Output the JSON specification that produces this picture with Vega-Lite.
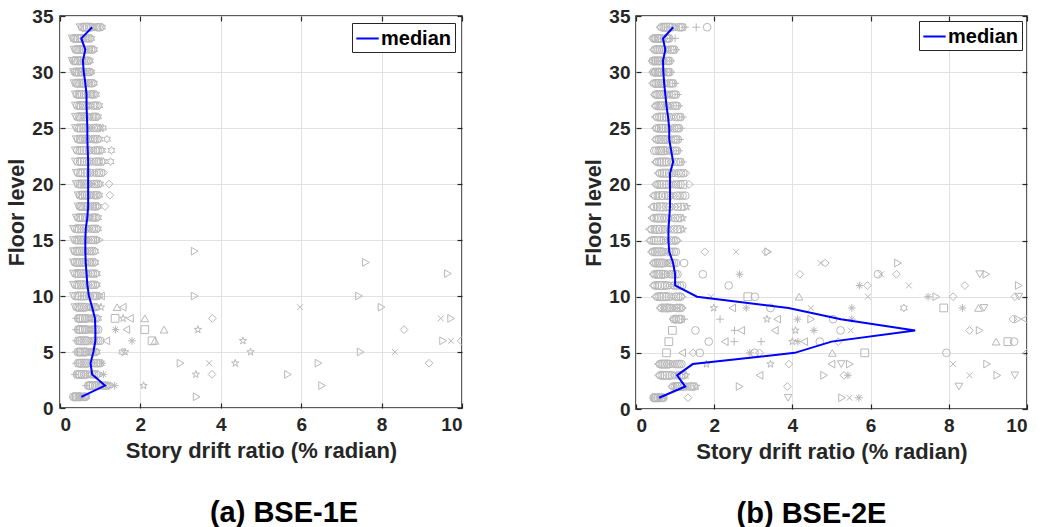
{
"$schema": "https://vega.github.io/schema/vega-lite/v6.json",
"padding": {"left": 6, "top": 6, "right": 0, "bottom": 2},
"background": "white",
"spacing": 174,
"bounds": "flush",
"config": {"font": "Liberation Sans", "view": {"stroke": "#262626", "strokeWidth": 1.5}},
"datasets": {
"a": [
{"f":34,"x":0.50,"m":"v"},{"f":34,"x":0.59,"m":"o"},{"f":34,"x":0.68,"m":"s"},{"f":34,"x":0.78,"m":"o"},{"f":34,"x":0.87,"m":"d"},{"f":34,"x":0.96,"m":"o"},{"f":34,"x":1.05,"m":"h"},
{"f":33,"x":0.30,"m":"v"},{"f":33,"x":0.38,"m":"o"},{"f":33,"x":0.46,"m":"s"},{"f":33,"x":0.54,"m":"o"},{"f":33,"x":0.62,"m":"d"},{"f":33,"x":0.70,"m":"o"},{"f":33,"x":0.78,"m":"h"},
{"f":32,"x":0.35,"m":"v"},{"f":32,"x":0.43,"m":"o"},{"f":32,"x":0.52,"m":"s"},{"f":32,"x":0.60,"m":"o"},{"f":32,"x":0.68,"m":"d"},{"f":32,"x":0.77,"m":"o"},{"f":32,"x":0.85,"m":"h"},
{"f":31,"x":0.30,"m":"v"},{"f":31,"x":0.38,"m":"o"},{"f":31,"x":0.45,"m":"s"},{"f":31,"x":0.53,"m":"o"},{"f":31,"x":0.60,"m":"d"},{"f":31,"x":0.68,"m":"o"},{"f":31,"x":0.75,"m":"h"},
{"f":30,"x":0.33,"m":"v"},{"f":30,"x":0.41,"m":"o"},{"f":30,"x":0.48,"m":"s"},{"f":30,"x":0.56,"m":"o"},{"f":30,"x":0.63,"m":"d"},{"f":30,"x":0.71,"m":"o"},{"f":30,"x":0.78,"m":"h"},
{"f":29,"x":0.35,"m":"v"},{"f":29,"x":0.43,"m":"o"},{"f":29,"x":0.52,"m":"s"},{"f":29,"x":0.60,"m":"o"},{"f":29,"x":0.68,"m":"d"},{"f":29,"x":0.77,"m":"o"},{"f":29,"x":0.85,"m":"h"},
{"f":28,"x":0.38,"m":"v"},{"f":28,"x":0.47,"m":"o"},{"f":28,"x":0.55,"m":"s"},{"f":28,"x":0.64,"m":"o"},{"f":28,"x":0.73,"m":"d"},{"f":28,"x":0.81,"m":"o"},{"f":28,"x":0.90,"m":"h"},
{"f":27,"x":0.38,"m":"v"},{"f":27,"x":0.48,"m":"o"},{"f":27,"x":0.58,"m":"s"},{"f":27,"x":0.68,"m":"o"},{"f":27,"x":0.78,"m":"d"},{"f":27,"x":0.88,"m":"o"},{"f":27,"x":0.98,"m":"h"},
{"f":26,"x":0.38,"m":"v"},{"f":26,"x":0.48,"m":"o"},{"f":26,"x":0.57,"m":"s"},{"f":26,"x":0.67,"m":"o"},{"f":26,"x":0.76,"m":"d"},{"f":26,"x":0.86,"m":"o"},{"f":26,"x":0.95,"m":"h"},
{"f":25,"x":0.38,"m":"v"},{"f":25,"x":0.48,"m":"o"},{"f":25,"x":0.59,"m":"s"},{"f":25,"x":0.69,"m":"o"},{"f":25,"x":0.79,"m":"d"},{"f":25,"x":0.90,"m":"o"},{"f":25,"x":1.00,"m":"h"},{"f":25,"x":1.07,"m":"h"},
{"f":24,"x":0.40,"m":"v"},{"f":24,"x":0.50,"m":"o"},{"f":24,"x":0.59,"m":"s"},{"f":24,"x":0.69,"m":"o"},{"f":24,"x":0.79,"m":"d"},{"f":24,"x":0.88,"m":"o"},{"f":24,"x":0.98,"m":"h"},{"f":24,"x":1.17,"m":"h"},
{"f":23,"x":0.38,"m":"v"},{"f":23,"x":0.49,"m":"o"},{"f":23,"x":0.60,"m":"s"},{"f":23,"x":0.72,"m":"o"},{"f":23,"x":0.83,"m":"d"},{"f":23,"x":0.94,"m":"o"},{"f":23,"x":1.05,"m":"h"},{"f":23,"x":1.28,"m":"h"},
{"f":22,"x":0.38,"m":"v"},{"f":22,"x":0.50,"m":"o"},{"f":22,"x":0.61,"m":"s"},{"f":22,"x":0.73,"m":"o"},{"f":22,"x":0.85,"m":"d"},{"f":22,"x":0.96,"m":"o"},{"f":22,"x":1.08,"m":"h"},{"f":22,"x":1.26,"m":"h"},
{"f":21,"x":0.40,"m":"v"},{"f":21,"x":0.51,"m":"o"},{"f":21,"x":0.63,"m":"s"},{"f":21,"x":0.74,"m":"o"},{"f":21,"x":0.85,"m":"d"},{"f":21,"x":0.97,"m":"o"},{"f":21,"x":1.08,"m":"d"},
{"f":20,"x":0.40,"m":"v"},{"f":20,"x":0.50,"m":"o"},{"f":20,"x":0.60,"m":"s"},{"f":20,"x":0.70,"m":"o"},{"f":20,"x":0.80,"m":"d"},{"f":20,"x":0.90,"m":"o"},{"f":20,"x":1.00,"m":"h"},{"f":20,"x":1.22,"m":"d"},
{"f":19,"x":0.45,"m":"v"},{"f":19,"x":0.54,"m":"o"},{"f":19,"x":0.63,"m":"s"},{"f":19,"x":0.72,"m":"o"},{"f":19,"x":0.80,"m":"d"},{"f":19,"x":0.89,"m":"o"},{"f":19,"x":0.98,"m":"h"},{"f":19,"x":1.24,"m":"d"},
{"f":18,"x":0.45,"m":"v"},{"f":18,"x":0.53,"m":"o"},{"f":18,"x":0.62,"m":"s"},{"f":18,"x":0.70,"m":"o"},{"f":18,"x":0.78,"m":"d"},{"f":18,"x":0.87,"m":"o"},{"f":18,"x":0.95,"m":"h"},{"f":18,"x":1.12,"m":"d"},
{"f":17,"x":0.40,"m":"v"},{"f":17,"x":0.49,"m":"o"},{"f":17,"x":0.58,"m":"s"},{"f":17,"x":0.68,"m":"o"},{"f":17,"x":0.77,"m":"d"},{"f":17,"x":0.86,"m":"o"},{"f":17,"x":0.95,"m":"h"},
{"f":16,"x":0.33,"m":"v"},{"f":16,"x":0.43,"m":"o"},{"f":16,"x":0.54,"m":"s"},{"f":16,"x":0.64,"m":"o"},{"f":16,"x":0.74,"m":"d"},{"f":16,"x":0.85,"m":"o"},{"f":16,"x":0.95,"m":"h"},
{"f":15,"x":0.33,"m":"v"},{"f":15,"x":0.43,"m":"o"},{"f":15,"x":0.53,"m":"s"},{"f":15,"x":0.63,"m":"o"},{"f":15,"x":0.72,"m":"d"},{"f":15,"x":0.82,"m":"o"},{"f":15,"x":0.92,"m":"h"},{"f":15,"x":0.99,"m":">"},
{"f":14,"x":0.33,"m":"v"},{"f":14,"x":0.42,"m":"o"},{"f":14,"x":0.51,"m":"s"},{"f":14,"x":0.61,"m":"o"},{"f":14,"x":0.70,"m":"d"},{"f":14,"x":0.79,"m":"o"},{"f":14,"x":0.88,"m":"h"},{"f":14,"x":3.35,"m":">"},
{"f":13,"x":0.33,"m":"v"},{"f":13,"x":0.42,"m":"o"},{"f":13,"x":0.51,"m":"s"},{"f":13,"x":0.61,"m":"o"},{"f":13,"x":0.70,"m":"d"},{"f":13,"x":0.79,"m":"o"},{"f":13,"x":0.88,"m":"h"},{"f":13,"x":7.61,"m":">"},
{"f":12,"x":0.33,"m":"v"},{"f":12,"x":0.43,"m":"o"},{"f":12,"x":0.53,"m":"s"},{"f":12,"x":0.63,"m":"o"},{"f":12,"x":0.72,"m":"d"},{"f":12,"x":0.82,"m":"o"},{"f":12,"x":0.92,"m":"h"},{"f":12,"x":9.65,"m":">"},
{"f":11,"x":0.33,"m":"v"},{"f":11,"x":0.43,"m":"o"},{"f":11,"x":0.53,"m":"s"},{"f":11,"x":0.63,"m":"o"},{"f":11,"x":0.72,"m":"d"},{"f":11,"x":0.82,"m":"o"},{"f":11,"x":0.92,"m":"h"},
{"f":10,"x":0.33,"m":"v"},{"f":10,"x":0.44,"m":"o"},{"f":10,"x":0.55,"m":"s"},{"f":10,"x":0.66,"m":"o"},{"f":10,"x":0.76,"m":"d"},{"f":10,"x":0.87,"m":"o"},{"f":10,"x":0.98,"m":"h"},{"f":10,"x":1.02,"m":"<"},{"f":10,"x":3.35,"m":">"},{"f":10,"x":7.44,"m":">"},
{"f":9,"x":0.37,"m":"v"},{"f":9,"x":0.46,"m":"o"},{"f":9,"x":0.55,"m":"s"},{"f":9,"x":0.65,"m":"o"},{"f":9,"x":0.74,"m":"d"},{"f":9,"x":0.83,"m":"o"},{"f":9,"x":0.92,"m":"h"},{"f":9,"x":1.02,"m":"p"},{"f":9,"x":1.42,"m":"^"},{"f":9,"x":1.56,"m":"<"},{"f":9,"x":5.97,"m":"x"},{"f":9,"x":8.0,"m":">"},
{"f":8,"x":0.40,"m":"+"},{"f":8,"x":0.49,"m":"o"},{"f":8,"x":0.58,"m":"s"},{"f":8,"x":0.68,"m":"o"},{"f":8,"x":0.77,"m":"d"},{"f":8,"x":0.86,"m":"o"},{"f":8,"x":0.95,"m":"h"},{"f":8,"x":1.37,"m":"s"},{"f":8,"x":1.57,"m":"p"},{"f":8,"x":1.74,"m":"<"},{"f":8,"x":2.11,"m":"^"},{"f":8,"x":3.79,"m":"d"},{"f":8,"x":9.47,"m":"x"},{"f":8,"x":9.73,"m":">"},
{"f":7,"x":0.40,"m":"+"},{"f":7,"x":0.49,"m":"o"},{"f":7,"x":0.58,"m":"s"},{"f":7,"x":0.68,"m":"o"},{"f":7,"x":0.77,"m":"d"},{"f":7,"x":0.86,"m":"o"},{"f":7,"x":0.95,"m":"o"},{"f":7,"x":1.38,"m":"*"},{"f":7,"x":1.65,"m":"<"},{"f":7,"x":2.11,"m":"s"},{"f":7,"x":2.59,"m":"^"},{"f":7,"x":3.43,"m":"p"},{"f":7,"x":8.56,"m":"d"},
{"f":6,"x":0.40,"m":"+"},{"f":6,"x":0.50,"m":"o"},{"f":6,"x":0.60,"m":"s"},{"f":6,"x":0.70,"m":"o"},{"f":6,"x":0.80,"m":"d"},{"f":6,"x":0.90,"m":"o"},{"f":6,"x":1.00,"m":"o"},{"f":6,"x":1.15,"m":"<"},{"f":6,"x":1.79,"m":"*"},{"f":6,"x":2.29,"m":"s"},{"f":6,"x":2.36,"m":"^"},{"f":6,"x":4.55,"m":"p"},{"f":6,"x":9.53,"m":">"},{"f":6,"x":9.73,"m":"x"},{"f":6,"x":9.98,"m":"d"},
{"f":5,"x":0.40,"m":"+"},{"f":5,"x":0.49,"m":"o"},{"f":5,"x":0.57,"m":"s"},{"f":5,"x":0.66,"m":"o"},{"f":5,"x":0.75,"m":"d"},{"f":5,"x":0.83,"m":"o"},{"f":5,"x":0.92,"m":"h"},{"f":5,"x":1.55,"m":"h"},{"f":5,"x":1.62,"m":"p"},{"f":5,"x":4.74,"m":"p"},{"f":5,"x":7.48,"m":">"},{"f":5,"x":8.33,"m":"x"},
{"f":4,"x":0.40,"m":"+"},{"f":4,"x":0.50,"m":"o"},{"f":4,"x":0.60,"m":"s"},{"f":4,"x":0.70,"m":"o"},{"f":4,"x":0.80,"m":"d"},{"f":4,"x":0.90,"m":"o"},{"f":4,"x":1.00,"m":"o"},{"f":4,"x":1.05,"m":"*"},{"f":4,"x":3.0,"m":">"},{"f":4,"x":3.71,"m":"x"},{"f":4,"x":4.36,"m":"p"},{"f":4,"x":6.43,"m":">"},{"f":4,"x":9.18,"m":"d"},
{"f":3,"x":0.37,"m":"+"},{"f":3,"x":0.47,"m":"o"},{"f":3,"x":0.56,"m":"s"},{"f":3,"x":0.66,"m":"o"},{"f":3,"x":0.76,"m":"d"},{"f":3,"x":0.85,"m":"o"},{"f":3,"x":0.95,"m":"h"},{"f":3,"x":1.08,"m":"*"},{"f":3,"x":3.38,"m":"p"},{"f":3,"x":3.78,"m":"d"},{"f":3,"x":5.67,"m":">"},
{"f":2,"x":0.65,"m":"+"},{"f":2,"x":0.74,"m":"o"},{"f":2,"x":0.83,"m":"s"},{"f":2,"x":0.93,"m":"o"},{"f":2,"x":1.02,"m":"d"},{"f":2,"x":1.11,"m":"o"},{"f":2,"x":1.20,"m":"h"},{"f":2,"x":1.24,"m":"d"},{"f":2,"x":1.36,"m":"*"},{"f":2,"x":2.08,"m":"p"},{"f":2,"x":6.52,"m":">"},
{"f":1,"x":0.33,"m":"o"},{"f":1,"x":0.39,"m":"o"},{"f":1,"x":0.44,"m":"s"},{"f":1,"x":0.50,"m":"o"},{"f":1,"x":0.55,"m":"d"},{"f":1,"x":0.61,"m":"o"},{"f":1,"x":0.66,"m":"h"},{"f":1,"x":3.4,"m":">"},
{"f":34,"x":0.55,"m":"o"},{"f":34,"x":0.64,"m":"s"},{"f":34,"x":0.73,"m":"o"},{"f":34,"x":0.82,"m":"d"},{"f":34,"x":0.92,"m":"o"},{"f":34,"x":1.00,"m":"o"},
{"f":33,"x":0.34,"m":"o"},{"f":33,"x":0.42,"m":"s"},{"f":33,"x":0.50,"m":"o"},{"f":33,"x":0.58,"m":"d"},{"f":33,"x":0.66,"m":"o"},{"f":33,"x":0.74,"m":"o"},
{"f":32,"x":0.39,"m":"o"},{"f":32,"x":0.47,"m":"s"},{"f":32,"x":0.56,"m":"o"},{"f":32,"x":0.64,"m":"d"},{"f":32,"x":0.72,"m":"o"},{"f":32,"x":0.81,"m":"o"},
{"f":31,"x":0.34,"m":"o"},{"f":31,"x":0.41,"m":"s"},{"f":31,"x":0.49,"m":"o"},{"f":31,"x":0.56,"m":"d"},{"f":31,"x":0.64,"m":"o"},{"f":31,"x":0.71,"m":"o"},
{"f":30,"x":0.37,"m":"o"},{"f":30,"x":0.44,"m":"s"},{"f":30,"x":0.52,"m":"o"},{"f":30,"x":0.59,"m":"d"},{"f":30,"x":0.67,"m":"o"},{"f":30,"x":0.74,"m":"o"},
{"f":29,"x":0.39,"m":"o"},{"f":29,"x":0.47,"m":"s"},{"f":29,"x":0.56,"m":"o"},{"f":29,"x":0.64,"m":"d"},{"f":29,"x":0.72,"m":"o"},{"f":29,"x":0.81,"m":"o"},
{"f":28,"x":0.42,"m":"o"},{"f":28,"x":0.51,"m":"s"},{"f":28,"x":0.60,"m":"o"},{"f":28,"x":0.68,"m":"d"},{"f":28,"x":0.77,"m":"o"},{"f":28,"x":0.85,"m":"o"},
{"f":27,"x":0.43,"m":"o"},{"f":27,"x":0.53,"m":"s"},{"f":27,"x":0.63,"m":"o"},{"f":27,"x":0.73,"m":"d"},{"f":27,"x":0.83,"m":"o"},{"f":27,"x":0.93,"m":"o"},
{"f":26,"x":0.43,"m":"o"},{"f":26,"x":0.52,"m":"s"},{"f":26,"x":0.62,"m":"o"},{"f":26,"x":0.71,"m":"d"},{"f":26,"x":0.81,"m":"o"},{"f":26,"x":0.90,"m":"o"},
{"f":25,"x":0.43,"m":"o"},{"f":25,"x":0.53,"m":"s"},{"f":25,"x":0.64,"m":"o"},{"f":25,"x":0.74,"m":"d"},{"f":25,"x":0.84,"m":"o"},{"f":25,"x":0.95,"m":"o"},
{"f":24,"x":0.45,"m":"o"},{"f":24,"x":0.54,"m":"s"},{"f":24,"x":0.64,"m":"o"},{"f":24,"x":0.74,"m":"d"},{"f":24,"x":0.83,"m":"o"},{"f":24,"x":0.93,"m":"o"},
{"f":23,"x":0.43,"m":"o"},{"f":23,"x":0.55,"m":"s"},{"f":23,"x":0.66,"m":"o"},{"f":23,"x":0.77,"m":"d"},{"f":23,"x":0.88,"m":"o"},{"f":23,"x":0.99,"m":"o"},
{"f":22,"x":0.44,"m":"o"},{"f":22,"x":0.55,"m":"s"},{"f":22,"x":0.67,"m":"o"},{"f":22,"x":0.79,"m":"d"},{"f":22,"x":0.90,"m":"o"},{"f":22,"x":1.02,"m":"o"},
{"f":21,"x":0.45,"m":"o"},{"f":21,"x":0.57,"m":"s"},{"f":21,"x":0.68,"m":"o"},{"f":21,"x":0.79,"m":"d"},{"f":21,"x":0.91,"m":"o"},{"f":21,"x":1.02,"m":"o"},
{"f":20,"x":0.45,"m":"o"},{"f":20,"x":0.55,"m":"s"},{"f":20,"x":0.65,"m":"o"},{"f":20,"x":0.75,"m":"d"},{"f":20,"x":0.85,"m":"o"},{"f":20,"x":0.95,"m":"o"},
{"f":19,"x":0.49,"m":"o"},{"f":19,"x":0.58,"m":"s"},{"f":19,"x":0.67,"m":"o"},{"f":19,"x":0.76,"m":"d"},{"f":19,"x":0.85,"m":"o"},{"f":19,"x":0.93,"m":"o"},
{"f":18,"x":0.49,"m":"o"},{"f":18,"x":0.57,"m":"s"},{"f":18,"x":0.66,"m":"o"},{"f":18,"x":0.74,"m":"d"},{"f":18,"x":0.82,"m":"o"},{"f":18,"x":0.91,"m":"o"},
{"f":17,"x":0.45,"m":"o"},{"f":17,"x":0.54,"m":"s"},{"f":17,"x":0.63,"m":"o"},{"f":17,"x":0.72,"m":"d"},{"f":17,"x":0.81,"m":"o"},{"f":17,"x":0.90,"m":"o"},
{"f":16,"x":0.38,"m":"o"},{"f":16,"x":0.48,"m":"s"},{"f":16,"x":0.59,"m":"o"},{"f":16,"x":0.69,"m":"d"},{"f":16,"x":0.79,"m":"o"},{"f":16,"x":0.90,"m":"o"},
{"f":15,"x":0.38,"m":"o"},{"f":15,"x":0.48,"m":"s"},{"f":15,"x":0.58,"m":"o"},{"f":15,"x":0.67,"m":"d"},{"f":15,"x":0.77,"m":"o"},{"f":15,"x":0.87,"m":"o"},
{"f":14,"x":0.37,"m":"o"},{"f":14,"x":0.47,"m":"s"},{"f":14,"x":0.56,"m":"o"},{"f":14,"x":0.65,"m":"d"},{"f":14,"x":0.74,"m":"o"},{"f":14,"x":0.84,"m":"o"},
{"f":13,"x":0.37,"m":"o"},{"f":13,"x":0.47,"m":"s"},{"f":13,"x":0.56,"m":"o"},{"f":13,"x":0.65,"m":"d"},{"f":13,"x":0.74,"m":"o"},{"f":13,"x":0.84,"m":"o"},
{"f":12,"x":0.38,"m":"o"},{"f":12,"x":0.48,"m":"s"},{"f":12,"x":0.58,"m":"o"},{"f":12,"x":0.67,"m":"d"},{"f":12,"x":0.77,"m":"o"},{"f":12,"x":0.87,"m":"o"},
{"f":11,"x":0.38,"m":"o"},{"f":11,"x":0.48,"m":"s"},{"f":11,"x":0.58,"m":"o"},{"f":11,"x":0.67,"m":"d"},{"f":11,"x":0.77,"m":"o"},{"f":11,"x":0.87,"m":"o"},
{"f":10,"x":0.38,"m":"o"},{"f":10,"x":0.49,"m":"s"},{"f":10,"x":0.60,"m":"o"},{"f":10,"x":0.71,"m":"d"},{"f":10,"x":0.82,"m":"o"},{"f":10,"x":0.92,"m":"o"},
{"f":9,"x":0.41,"m":"o"},{"f":9,"x":0.50,"m":"s"},{"f":9,"x":0.60,"m":"o"},{"f":9,"x":0.69,"m":"d"},{"f":9,"x":0.78,"m":"o"},{"f":9,"x":0.87,"m":"o"},
{"f":8,"x":0.45,"m":"o"},{"f":8,"x":0.54,"m":"s"},{"f":8,"x":0.63,"m":"o"},{"f":8,"x":0.72,"m":"d"},{"f":8,"x":0.81,"m":"o"},{"f":8,"x":0.90,"m":"o"},
{"f":7,"x":0.45,"m":"o"},{"f":7,"x":0.54,"m":"s"},{"f":7,"x":0.63,"m":"o"},{"f":7,"x":0.72,"m":"d"},{"f":7,"x":0.81,"m":"o"},{"f":7,"x":0.90,"m":"o"},
{"f":6,"x":0.45,"m":"o"},{"f":6,"x":0.55,"m":"s"},{"f":6,"x":0.65,"m":"o"},{"f":6,"x":0.75,"m":"d"},{"f":6,"x":0.85,"m":"o"},{"f":6,"x":0.95,"m":"o"},
{"f":5,"x":0.44,"m":"o"},{"f":5,"x":0.53,"m":"s"},{"f":5,"x":0.62,"m":"o"},{"f":5,"x":0.70,"m":"d"},{"f":5,"x":0.79,"m":"o"},{"f":5,"x":0.88,"m":"o"},
{"f":4,"x":0.45,"m":"o"},{"f":4,"x":0.55,"m":"s"},{"f":4,"x":0.65,"m":"o"},{"f":4,"x":0.75,"m":"d"},{"f":4,"x":0.85,"m":"o"},{"f":4,"x":0.95,"m":"o"},
{"f":3,"x":0.42,"m":"o"},{"f":3,"x":0.51,"m":"s"},{"f":3,"x":0.61,"m":"o"},{"f":3,"x":0.71,"m":"d"},{"f":3,"x":0.80,"m":"o"},{"f":3,"x":0.90,"m":"o"},
{"f":2,"x":0.70,"m":"o"},{"f":2,"x":0.79,"m":"s"},{"f":2,"x":0.88,"m":"o"},{"f":2,"x":0.97,"m":"d"},{"f":2,"x":1.06,"m":"o"},{"f":2,"x":1.15,"m":"o"},
{"f":1,"x":0.36,"m":"o"},{"f":1,"x":0.41,"m":"s"},{"f":1,"x":0.47,"m":"o"},{"f":1,"x":0.52,"m":"d"},{"f":1,"x":0.58,"m":"o"},{"f":1,"x":0.63,"m":"o"}
],
"b": [
{"f":34,"x":0.60,"m":"<"},{"f":34,"x":0.71,"m":"o"},{"f":34,"x":0.82,"m":"s"},{"f":34,"x":0.93,"m":"o"},{"f":34,"x":1.03,"m":"d"},{"f":34,"x":1.14,"m":"o"},{"f":34,"x":1.25,"m":"+"},{"f":34,"x":1.54,"m":"+"},{"f":34,"x":1.82,"m":"o"},
{"f":33,"x":0.41,"m":"<"},{"f":33,"x":0.49,"m":"o"},{"f":33,"x":0.57,"m":"s"},{"f":33,"x":0.65,"m":"o"},{"f":33,"x":0.73,"m":"d"},{"f":33,"x":0.81,"m":"o"},{"f":33,"x":0.89,"m":"+"},{"f":33,"x":1.0,"m":"+"},
{"f":32,"x":0.43,"m":"<"},{"f":32,"x":0.53,"m":"o"},{"f":32,"x":0.63,"m":"s"},{"f":32,"x":0.73,"m":"o"},{"f":32,"x":0.83,"m":"d"},{"f":32,"x":0.93,"m":"o"},{"f":32,"x":1.03,"m":"+"},
{"f":31,"x":0.39,"m":"<"},{"f":31,"x":0.48,"m":"o"},{"f":31,"x":0.56,"m":"s"},{"f":31,"x":0.65,"m":"o"},{"f":31,"x":0.73,"m":"d"},{"f":31,"x":0.82,"m":"o"},{"f":31,"x":0.90,"m":"+"},
{"f":30,"x":0.41,"m":"<"},{"f":30,"x":0.49,"m":"o"},{"f":30,"x":0.57,"m":"s"},{"f":30,"x":0.66,"m":"o"},{"f":30,"x":0.74,"m":"d"},{"f":30,"x":0.82,"m":"o"},{"f":30,"x":0.90,"m":"+"},
{"f":29,"x":0.41,"m":"<"},{"f":29,"x":0.51,"m":"o"},{"f":29,"x":0.61,"m":"s"},{"f":29,"x":0.71,"m":"o"},{"f":29,"x":0.80,"m":"d"},{"f":29,"x":0.90,"m":"o"},{"f":29,"x":1.00,"m":"+"},
{"f":28,"x":0.45,"m":"<"},{"f":28,"x":0.55,"m":"o"},{"f":28,"x":0.66,"m":"s"},{"f":28,"x":0.76,"m":"o"},{"f":28,"x":0.86,"m":"d"},{"f":28,"x":0.97,"m":"o"},{"f":28,"x":1.07,"m":"+"},
{"f":27,"x":0.47,"m":"<"},{"f":27,"x":0.58,"m":"o"},{"f":27,"x":0.68,"m":"s"},{"f":27,"x":0.79,"m":"o"},{"f":27,"x":0.89,"m":"d"},{"f":27,"x":1.00,"m":"o"},{"f":27,"x":1.10,"m":"+"},
{"f":26,"x":0.48,"m":"<"},{"f":26,"x":0.60,"m":"o"},{"f":26,"x":0.72,"m":"s"},{"f":26,"x":0.84,"m":"o"},{"f":26,"x":0.96,"m":"d"},{"f":26,"x":1.08,"m":"o"},{"f":26,"x":1.20,"m":"+"},
{"f":25,"x":0.48,"m":"<"},{"f":25,"x":0.59,"m":"o"},{"f":25,"x":0.70,"m":"s"},{"f":25,"x":0.82,"m":"o"},{"f":25,"x":0.93,"m":"d"},{"f":25,"x":1.04,"m":"o"},{"f":25,"x":1.15,"m":"+"},
{"f":24,"x":0.48,"m":"<"},{"f":24,"x":0.59,"m":"o"},{"f":24,"x":0.69,"m":"s"},{"f":24,"x":0.80,"m":"o"},{"f":24,"x":0.91,"m":"d"},{"f":24,"x":1.01,"m":"o"},{"f":24,"x":1.12,"m":"+"},
{"f":23,"x":0.47,"m":"o"},{"f":23,"x":0.58,"m":"o"},{"f":23,"x":0.68,"m":"s"},{"f":23,"x":0.79,"m":"o"},{"f":23,"x":0.89,"m":"d"},{"f":23,"x":1.00,"m":"o"},{"f":23,"x":1.10,"m":"+"},
{"f":22,"x":0.48,"m":"<"},{"f":22,"x":0.60,"m":"o"},{"f":22,"x":0.72,"m":"s"},{"f":22,"x":0.84,"m":"o"},{"f":22,"x":0.96,"m":"d"},{"f":22,"x":1.08,"m":"o"},{"f":22,"x":1.20,"m":"+"},
{"f":21,"x":0.55,"m":"<"},{"f":21,"x":0.67,"m":"o"},{"f":21,"x":0.79,"m":"s"},{"f":21,"x":0.91,"m":"o"},{"f":21,"x":1.03,"m":"d"},{"f":21,"x":1.15,"m":"o"},{"f":21,"x":1.27,"m":"d"},
{"f":20,"x":0.48,"m":"<"},{"f":20,"x":0.60,"m":"o"},{"f":20,"x":0.72,"m":"s"},{"f":20,"x":0.84,"m":"o"},{"f":20,"x":0.96,"m":"d"},{"f":20,"x":1.08,"m":"o"},{"f":20,"x":1.20,"m":"s"},{"f":20,"x":1.36,"m":"d"},
{"f":19,"x":0.42,"m":"<"},{"f":19,"x":0.56,"m":"o"},{"f":19,"x":0.70,"m":"s"},{"f":19,"x":0.84,"m":"o"},{"f":19,"x":0.98,"m":"d"},{"f":19,"x":1.12,"m":"o"},{"f":19,"x":1.26,"m":"o"},
{"f":18,"x":0.39,"m":"<"},{"f":18,"x":0.54,"m":"o"},{"f":18,"x":0.69,"m":"s"},{"f":18,"x":0.85,"m":"o"},{"f":18,"x":1.00,"m":"d"},{"f":18,"x":1.15,"m":"o"},{"f":18,"x":1.30,"m":"p"},
{"f":17,"x":0.39,"m":"<"},{"f":17,"x":0.53,"m":"o"},{"f":17,"x":0.66,"m":"s"},{"f":17,"x":0.80,"m":"o"},{"f":17,"x":0.93,"m":"d"},{"f":17,"x":1.07,"m":"o"},{"f":17,"x":1.20,"m":"p"},
{"f":16,"x":0.33,"m":"<"},{"f":16,"x":0.48,"m":"o"},{"f":16,"x":0.62,"m":"s"},{"f":16,"x":0.77,"m":"o"},{"f":16,"x":0.91,"m":"d"},{"f":16,"x":1.06,"m":"o"},{"f":16,"x":1.20,"m":"p"},
{"f":15,"x":0.33,"m":"<"},{"f":15,"x":0.46,"m":"o"},{"f":15,"x":0.58,"m":"s"},{"f":15,"x":0.71,"m":"o"},{"f":15,"x":0.83,"m":"d"},{"f":15,"x":0.96,"m":"o"},{"f":15,"x":1.08,"m":">"},
{"f":14,"x":0.38,"m":"<"},{"f":14,"x":0.49,"m":"o"},{"f":14,"x":0.59,"m":"s"},{"f":14,"x":0.70,"m":"o"},{"f":14,"x":0.81,"m":"d"},{"f":14,"x":0.91,"m":"o"},{"f":14,"x":1.02,"m":"o"},{"f":14,"x":1.76,"m":"d"},{"f":14,"x":2.56,"m":"x"},{"f":14,"x":3.32,"m":"d"},{"f":14,"x":3.38,"m":">"},
{"f":13,"x":0.42,"m":"<"},{"f":13,"x":0.52,"m":"o"},{"f":13,"x":0.62,"m":"s"},{"f":13,"x":0.72,"m":"o"},{"f":13,"x":0.82,"m":"d"},{"f":13,"x":0.92,"m":"o"},{"f":13,"x":1.02,"m":"o"},{"f":13,"x":1.23,"m":"o"},{"f":13,"x":4.72,"m":"x"},{"f":13,"x":4.84,"m":"d"},{"f":13,"x":6.7,"m":">"},
{"f":12,"x":0.42,"m":"<"},{"f":12,"x":0.53,"m":"o"},{"f":12,"x":0.63,"m":"s"},{"f":12,"x":0.74,"m":"o"},{"f":12,"x":0.85,"m":"d"},{"f":12,"x":0.95,"m":"o"},{"f":12,"x":1.06,"m":"o"},{"f":12,"x":1.71,"m":"o"},{"f":12,"x":2.65,"m":"*"},{"f":12,"x":4.19,"m":"d"},{"f":12,"x":6.19,"m":"o"},{"f":12,"x":6.27,"m":"x"},{"f":12,"x":6.66,"m":"d"},{"f":12,"x":8.79,"m":"v"},{"f":12,"x":8.96,"m":">"},
{"f":11,"x":0.42,"m":"<"},{"f":11,"x":0.55,"m":"o"},{"f":11,"x":0.67,"m":"s"},{"f":11,"x":0.80,"m":"o"},{"f":11,"x":0.93,"m":"d"},{"f":11,"x":1.05,"m":"o"},{"f":11,"x":1.18,"m":"o"},{"f":11,"x":2.37,"m":"o"},{"f":11,"x":5.72,"m":"*"},{"f":11,"x":5.92,"m":"d"},{"f":11,"x":6.98,"m":"x"},{"f":11,"x":8.41,"m":"d"},{"f":11,"x":9.79,"m":">"},
{"f":10,"x":0.48,"m":"<"},{"f":10,"x":0.60,"m":"o"},{"f":10,"x":0.72,"m":"s"},{"f":10,"x":0.84,"m":"o"},{"f":10,"x":0.96,"m":"d"},{"f":10,"x":1.08,"m":"o"},{"f":10,"x":1.20,"m":">"},{"f":10,"x":1.92,"m":"x"},{"f":10,"x":2.86,"m":"s"},{"f":10,"x":3.04,"m":"o"},{"f":10,"x":4.17,"m":"^"},{"f":10,"x":5.93,"m":"x"},{"f":10,"x":7.47,"m":"*"},{"f":10,"x":7.68,"m":">"},{"f":10,"x":8.11,"m":"d"},{"f":10,"x":9.69,"m":"d"},{"f":10,"x":9.79,"m":"v"},
{"f":9,"x":0.60,"m":"<"},{"f":9,"x":0.70,"m":"<"},{"f":9,"x":0.80,"m":"o"},{"f":9,"x":0.90,"m":"o"},{"f":9,"x":1.00,"m":"d"},{"f":9,"x":1.10,"m":"o"},{"f":9,"x":1.20,"m":">"},{"f":9,"x":1.99,"m":"p"},{"f":9,"x":2.46,"m":"<"},{"f":9,"x":2.82,"m":"*"},{"f":9,"x":3.44,"m":"o"},{"f":9,"x":4.47,"m":"x"},{"f":9,"x":5.52,"m":"*"},{"f":9,"x":6.85,"m":"h"},{"f":9,"x":7.87,"m":"s"},{"f":9,"x":8.35,"m":"*"},{"f":9,"x":8.76,"m":"^"},{"f":9,"x":8.9,"m":"v"},
{"f":8,"x":0.93,"m":"<"},{"f":8,"x":1.02,"m":"o"},{"f":8,"x":1.11,"m":"o"},{"f":8,"x":1.23,"m":"+"},{"f":8,"x":2.15,"m":"+"},{"f":8,"x":3.35,"m":"p"},{"f":8,"x":3.61,"m":"<"},{"f":8,"x":4.13,"m":"*"},{"f":8,"x":4.48,"m":">"},{"f":8,"x":5.04,"m":"o"},{"f":8,"x":5.52,"m":"*"},{"f":8,"x":9.64,"m":"d"},{"f":8,"x":9.77,"m":">"},{"f":8,"x":9.94,"m":"<"},
{"f":7,"x":0.93,"m":"s"},{"f":7,"x":1.52,"m":"o"},{"f":7,"x":2.52,"m":"+"},{"f":7,"x":2.69,"m":"<"},{"f":7,"x":3.55,"m":"<"},{"f":7,"x":4.08,"m":"p"},{"f":7,"x":4.55,"m":"*"},{"f":7,"x":5.23,"m":"o"},{"f":7,"x":5.49,"m":"x"},{"f":7,"x":8.53,"m":"d"},{"f":7,"x":8.79,"m":">"},
{"f":6,"x":0.84,"m":"s"},{"f":6,"x":1.86,"m":"o"},{"f":6,"x":2.27,"m":"<"},{"f":6,"x":2.51,"m":"+"},{"f":6,"x":3.2,"m":"+"},{"f":6,"x":4.0,"m":"p"},{"f":6,"x":4.14,"m":"*"},{"f":6,"x":4.3,"m":"<"},{"f":6,"x":4.7,"m":"o"},{"f":6,"x":5.17,"m":"d"},{"f":6,"x":9.21,"m":"^"},{"f":6,"x":9.51,"m":"s"},{"f":6,"x":9.67,"m":"o"},
{"f":5,"x":0.78,"m":"s"},{"f":5,"x":1.18,"m":"<"},{"f":5,"x":1.46,"m":"d"},{"f":5,"x":1.63,"m":"o"},{"f":5,"x":2.91,"m":"*"},{"f":5,"x":3.03,"m":"o"},{"f":5,"x":3.16,"m":"d"},{"f":5,"x":5.02,"m":"^"},{"f":5,"x":5.85,"m":"s"},{"f":5,"x":7.94,"m":"o"},{"f":5,"x":10.0,"m":"d"},
{"f":4,"x":0.56,"m":"<"},{"f":4,"x":0.66,"m":"o"},{"f":4,"x":0.76,"m":"s"},{"f":4,"x":0.86,"m":"o"},{"f":4,"x":0.96,"m":"d"},{"f":4,"x":1.06,"m":"o"},{"f":4,"x":1.16,"m":"o"},{"f":4,"x":1.8,"m":"p"},{"f":4,"x":3.44,"m":"p"},{"f":4,"x":3.91,"m":"d"},{"f":4,"x":5.0,"m":"<"},{"f":4,"x":5.25,"m":"v"},{"f":4,"x":5.47,"m":">"},{"f":4,"x":8.11,"m":"x"},{"f":4,"x":8.98,"m":">"},
{"f":3,"x":0.56,"m":"<"},{"f":3,"x":0.68,"m":"o"},{"f":3,"x":0.80,"m":"s"},{"f":3,"x":0.92,"m":"o"},{"f":3,"x":1.04,"m":"d"},{"f":3,"x":1.16,"m":"o"},{"f":3,"x":1.28,"m":"p"},{"f":3,"x":3.16,"m":"<"},{"f":3,"x":4.81,"m":">"},{"f":3,"x":5.32,"m":"d"},{"f":3,"x":5.42,"m":"*"},{"f":3,"x":8.53,"m":"x"},{"f":3,"x":9.24,"m":">"},{"f":3,"x":9.69,"m":"v"},
{"f":2,"x":0.90,"m":"<"},{"f":2,"x":1.01,"m":"o"},{"f":2,"x":1.12,"m":"s"},{"f":2,"x":1.22,"m":"o"},{"f":2,"x":1.33,"m":"d"},{"f":2,"x":1.44,"m":"o"},{"f":2,"x":1.54,"m":"p"},{"f":2,"x":2.65,"m":">"},{"f":2,"x":3.87,"m":"d"},{"f":2,"x":8.26,"m":"v"},
{"f":1,"x":0.45,"m":"o"},{"f":1,"x":0.49,"m":"o"},{"f":1,"x":0.53,"m":"s"},{"f":1,"x":0.57,"m":"o"},{"f":1,"x":0.62,"m":"d"},{"f":1,"x":0.66,"m":"o"},{"f":1,"x":0.70,"m":"o"},{"f":1,"x":1.33,"m":"d"},{"f":1,"x":3.89,"m":"v"},{"f":1,"x":5.27,"m":">"},{"f":1,"x":5.46,"m":"x"},{"f":1,"x":5.7,"m":"*"},
{"f":34,"x":0.65,"m":"o"},{"f":34,"x":0.76,"m":"s"},{"f":34,"x":0.87,"m":"o"},{"f":34,"x":0.98,"m":"d"},{"f":34,"x":1.09,"m":"o"},{"f":34,"x":1.19,"m":"o"},
{"f":33,"x":0.45,"m":"o"},{"f":33,"x":0.53,"m":"s"},{"f":33,"x":0.61,"m":"o"},{"f":33,"x":0.69,"m":"d"},{"f":33,"x":0.77,"m":"o"},{"f":33,"x":0.85,"m":"o"},
{"f":32,"x":0.48,"m":"o"},{"f":32,"x":0.58,"m":"s"},{"f":32,"x":0.68,"m":"o"},{"f":32,"x":0.78,"m":"d"},{"f":32,"x":0.88,"m":"o"},{"f":32,"x":0.98,"m":"o"},
{"f":31,"x":0.43,"m":"o"},{"f":31,"x":0.52,"m":"s"},{"f":31,"x":0.60,"m":"o"},{"f":31,"x":0.69,"m":"d"},{"f":31,"x":0.77,"m":"o"},{"f":31,"x":0.86,"m":"o"},
{"f":30,"x":0.45,"m":"o"},{"f":30,"x":0.53,"m":"s"},{"f":30,"x":0.61,"m":"o"},{"f":30,"x":0.70,"m":"d"},{"f":30,"x":0.78,"m":"o"},{"f":30,"x":0.86,"m":"o"},
{"f":29,"x":0.46,"m":"o"},{"f":29,"x":0.56,"m":"s"},{"f":29,"x":0.66,"m":"o"},{"f":29,"x":0.75,"m":"d"},{"f":29,"x":0.85,"m":"o"},{"f":29,"x":0.95,"m":"o"},
{"f":28,"x":0.50,"m":"o"},{"f":28,"x":0.61,"m":"s"},{"f":28,"x":0.71,"m":"o"},{"f":28,"x":0.81,"m":"d"},{"f":28,"x":0.91,"m":"o"},{"f":28,"x":1.02,"m":"o"},
{"f":27,"x":0.52,"m":"o"},{"f":27,"x":0.63,"m":"s"},{"f":27,"x":0.73,"m":"o"},{"f":27,"x":0.84,"m":"d"},{"f":27,"x":0.94,"m":"o"},{"f":27,"x":1.05,"m":"o"},
{"f":26,"x":0.54,"m":"o"},{"f":26,"x":0.66,"m":"s"},{"f":26,"x":0.78,"m":"o"},{"f":26,"x":0.90,"m":"d"},{"f":26,"x":1.02,"m":"o"},{"f":26,"x":1.14,"m":"o"},
{"f":25,"x":0.53,"m":"o"},{"f":25,"x":0.65,"m":"s"},{"f":25,"x":0.76,"m":"o"},{"f":25,"x":0.87,"m":"d"},{"f":25,"x":0.98,"m":"o"},{"f":25,"x":1.10,"m":"o"},
{"f":24,"x":0.53,"m":"o"},{"f":24,"x":0.64,"m":"s"},{"f":24,"x":0.75,"m":"o"},{"f":24,"x":0.85,"m":"d"},{"f":24,"x":0.96,"m":"o"},{"f":24,"x":1.07,"m":"o"},
{"f":23,"x":0.52,"m":"o"},{"f":23,"x":0.63,"m":"s"},{"f":23,"x":0.73,"m":"o"},{"f":23,"x":0.84,"m":"d"},{"f":23,"x":0.94,"m":"o"},{"f":23,"x":1.05,"m":"o"},
{"f":22,"x":0.54,"m":"o"},{"f":22,"x":0.66,"m":"s"},{"f":22,"x":0.78,"m":"o"},{"f":22,"x":0.90,"m":"d"},{"f":22,"x":1.02,"m":"o"},{"f":22,"x":1.14,"m":"o"},
{"f":21,"x":0.61,"m":"o"},{"f":21,"x":0.73,"m":"s"},{"f":21,"x":0.85,"m":"o"},{"f":21,"x":0.97,"m":"d"},{"f":21,"x":1.09,"m":"o"},{"f":21,"x":1.21,"m":"o"},
{"f":20,"x":0.54,"m":"o"},{"f":20,"x":0.66,"m":"s"},{"f":20,"x":0.78,"m":"o"},{"f":20,"x":0.90,"m":"d"},{"f":20,"x":1.02,"m":"o"},{"f":20,"x":1.14,"m":"o"},
{"f":19,"x":0.49,"m":"o"},{"f":19,"x":0.63,"m":"s"},{"f":19,"x":0.77,"m":"o"},{"f":19,"x":0.91,"m":"d"},{"f":19,"x":1.05,"m":"o"},{"f":19,"x":1.19,"m":"o"},
{"f":18,"x":0.46,"m":"o"},{"f":18,"x":0.62,"m":"s"},{"f":18,"x":0.77,"m":"o"},{"f":18,"x":0.92,"m":"d"},{"f":18,"x":1.07,"m":"o"},{"f":18,"x":1.22,"m":"o"},
{"f":17,"x":0.46,"m":"o"},{"f":17,"x":0.59,"m":"s"},{"f":17,"x":0.73,"m":"o"},{"f":17,"x":0.86,"m":"d"},{"f":17,"x":1.00,"m":"o"},{"f":17,"x":1.13,"m":"o"},
{"f":16,"x":0.40,"m":"o"},{"f":16,"x":0.55,"m":"s"},{"f":16,"x":0.69,"m":"o"},{"f":16,"x":0.84,"m":"d"},{"f":16,"x":0.98,"m":"o"},{"f":16,"x":1.13,"m":"o"},
{"f":15,"x":0.39,"m":"o"},{"f":15,"x":0.52,"m":"s"},{"f":15,"x":0.64,"m":"o"},{"f":15,"x":0.77,"m":"d"},{"f":15,"x":0.89,"m":"o"},{"f":15,"x":1.02,"m":"o"},
{"f":14,"x":0.43,"m":"o"},{"f":14,"x":0.54,"m":"s"},{"f":14,"x":0.65,"m":"o"},{"f":14,"x":0.75,"m":"d"},{"f":14,"x":0.86,"m":"o"},{"f":14,"x":0.97,"m":"o"},
{"f":13,"x":0.47,"m":"o"},{"f":13,"x":0.57,"m":"s"},{"f":13,"x":0.67,"m":"o"},{"f":13,"x":0.77,"m":"d"},{"f":13,"x":0.87,"m":"o"},{"f":13,"x":0.97,"m":"o"},
{"f":12,"x":0.47,"m":"o"},{"f":12,"x":0.58,"m":"s"},{"f":12,"x":0.69,"m":"o"},{"f":12,"x":0.79,"m":"d"},{"f":12,"x":0.90,"m":"o"},{"f":12,"x":1.01,"m":"o"},
{"f":11,"x":0.48,"m":"o"},{"f":11,"x":0.61,"m":"s"},{"f":11,"x":0.74,"m":"o"},{"f":11,"x":0.86,"m":"d"},{"f":11,"x":0.99,"m":"o"},{"f":11,"x":1.12,"m":"o"},
{"f":10,"x":0.54,"m":"o"},{"f":10,"x":0.66,"m":"s"},{"f":10,"x":0.78,"m":"o"},{"f":10,"x":0.90,"m":"d"},{"f":10,"x":1.02,"m":"o"},{"f":10,"x":1.14,"m":"o"},
{"f":9,"x":0.65,"m":"o"},{"f":9,"x":0.75,"m":"s"},{"f":9,"x":0.85,"m":"o"},{"f":9,"x":0.95,"m":"d"},{"f":9,"x":1.05,"m":"o"},{"f":9,"x":1.15,"m":"o"},
{"f":8,"x":0.97,"m":"o"},{"f":8,"x":1.07,"m":"s"},{"f":8,"x":1.16,"m":"o"},
{"f":4,"x":0.61,"m":"o"},{"f":4,"x":0.71,"m":"s"},{"f":4,"x":0.81,"m":"o"},{"f":4,"x":0.91,"m":"d"},{"f":4,"x":1.01,"m":"o"},{"f":4,"x":1.11,"m":"o"},
{"f":3,"x":0.62,"m":"o"},{"f":3,"x":0.74,"m":"s"},{"f":3,"x":0.86,"m":"o"},{"f":3,"x":0.98,"m":"d"},{"f":3,"x":1.10,"m":"o"},{"f":3,"x":1.22,"m":"o"},
{"f":2,"x":0.95,"m":"o"},{"f":2,"x":1.06,"m":"s"},{"f":2,"x":1.17,"m":"o"},{"f":2,"x":1.28,"m":"d"},{"f":2,"x":1.38,"m":"o"},{"f":2,"x":1.49,"m":"o"},
{"f":1,"x":0.47,"m":"o"},{"f":1,"x":0.51,"m":"s"},{"f":1,"x":0.55,"m":"o"},{"f":1,"x":0.60,"m":"d"},{"f":1,"x":0.64,"m":"o"},{"f":1,"x":0.68,"m":"o"}
],
"am": [
{"f":1,"x":0.53},{"f":2,"x":1.12},{"f":3,"x":0.8},{"f":4,"x":0.76},{"f":5,"x":0.83},{"f":6,"x":0.88},{"f":7,"x":0.88},{"f":8,"x":0.87},{"f":9,"x":0.8},{"f":10,"x":0.72},{"f":11,"x":0.68},{"f":12,"x":0.66},{"f":13,"x":0.64},{"f":14,"x":0.63},{"f":15,"x":0.63},{"f":16,"x":0.64},{"f":17,"x":0.68},{"f":18,"x":0.7},{"f":19,"x":0.7},{"f":20,"x":0.7},{"f":21,"x":0.7},{"f":22,"x":0.7},{"f":23,"x":0.69},{"f":24,"x":0.68},{"f":25,"x":0.68},{"f":26,"x":0.67},{"f":27,"x":0.66},{"f":28,"x":0.66},{"f":29,"x":0.63},{"f":30,"x":0.59},{"f":31,"x":0.57},{"f":32,"x":0.63},{"f":33,"x":0.53},{"f":34,"x":0.8}
],
"bm": [
{"f":1,"x":0.59},{"f":2,"x":1.26},{"f":3,"x":1.05},{"f":4,"x":1.45},{"f":5,"x":4.06},{"f":6,"x":5.0},{"f":7,"x":7.14},{"f":8,"x":5.24},{"f":9,"x":3.9},{"f":10,"x":1.56},{"f":11,"x":1.0},{"f":12,"x":1.0},{"f":13,"x":0.95},{"f":14,"x":0.85},{"f":15,"x":0.83},{"f":16,"x":0.83},{"f":17,"x":0.85},{"f":18,"x":0.87},{"f":19,"x":0.87},{"f":20,"x":0.87},{"f":21,"x":0.87},{"f":22,"x":0.95},{"f":23,"x":0.9},{"f":24,"x":0.85},{"f":25,"x":0.85},{"f":26,"x":0.82},{"f":27,"x":0.78},{"f":28,"x":0.75},{"f":29,"x":0.72},{"f":30,"x":0.7},{"f":31,"x":0.69},{"f":32,"x":0.75},{"f":33,"x":0.69},{"f":34,"x":0.95}
]
},
"resolve": {"scale": {"color": "independent"}, "legend": {"color": "independent"}},
"hconcat": [
{
"width": 402, "height": 392,
"title": {"text": "(a) BSE-1E", "orient": "bottom", "anchor": "middle", "fontSize": 29, "fontWeight": "bold", "color": "#000000", "offset": 38, "dx": 23},
"resolve": {"axis": {"x": "independent", "y": "independent"}},
"layer": [
{"data": {"name": "a"},
 "mark": {"type": "point", "filled": false, "color": "#b8b8b8", "opacity": 1, "size": 60, "strokeWidth": 1, "clip": true},
 "encoding": {
  "x": {"field": "x", "type": "quantitative", "scale": {"domain": [0, 10], "nice": false, "zero": false},
        "axis": {"orient": "bottom", "values": [0,2,4,6,8,10], "domain": false, "grid": true, "gridColor": "#e2e2e2", "tickSize": -5, "tickColor": "#262626", "tickWidth": 1.2, "labelFontSize": 19, "labelFontWeight": "bold", "labelColor": "#262626", "labelPadding": 12, "title": "Story drift ratio (% radian)", "titleFontSize": 22, "titleFontWeight": "bold", "titleColor": "#262626", "titlePadding": 6}},
  "y": {"field": "f", "type": "quantitative", "scale": {"domain": [0, 35], "nice": false, "zero": false},
        "axis": {"orient": "left", "values": [0,5,10,15,20,25,30,35], "domain": false, "grid": true, "gridColor": "#e2e2e2", "tickSize": -5, "tickColor": "#262626", "tickWidth": 1.2, "labelFontSize": 19, "labelFontWeight": "bold", "labelColor": "#262626", "labelPadding": 12, "title": "Floor level", "titleFontSize": 21.5, "titleFontWeight": "bold", "titleColor": "#262626", "titlePadding": 3}},
  "shape": {"field": "m", "type": "nominal", "legend": null,
   "scale": {"domain": ["o","+","*","x","s","d","^","v",">","<","p","h"],
             "range": ["circle","M-1,0L1,0M0,-1L0,1","M-1,0L1,0M0,-1L0,1M-0.7,-0.7L0.7,0.7M-0.7,0.7L0.7,-0.7","M-0.75,-0.75L0.75,0.75M-0.75,0.75L0.75,-0.75","square","diamond","triangle-up","triangle-down","triangle-right","triangle-left","M0,-1L0.22,-0.31L0.95,-0.31L0.36,0.12L0.59,0.81L0,0.38L-0.59,0.81L-0.36,0.12L-0.95,-0.31L-0.22,-0.31Z","M0,-1L0.29,-0.5L0.87,-0.5L0.58,0L0.87,0.5L0.29,0.5L0,1L-0.29,0.5L-0.87,0.5L-0.58,0L-0.87,-0.5L-0.29,-0.5Z"]}}
 }},
{"data": {"name": "am"},
 "mark": {"type": "line", "strokeWidth": 2},
 "encoding": {
  "x": {"field": "x", "type": "quantitative", "axis": {"orient": "top", "values": [0,2,4,6,8,10], "labels": false, "domain": false, "grid": false, "tickSize": -5, "tickColor": "#262626", "tickWidth": 1.2, "title": null}},
  "y": {"field": "f", "type": "quantitative", "axis": {"orient": "right", "values": [0,5,10,15,20,25,30,35], "labels": false, "domain": false, "grid": false, "tickSize": -5, "tickColor": "#262626", "tickWidth": 1.2, "title": null}},
  "order": {"field": "f", "type": "quantitative"},
  "color": {"datum": "median", "scale": {"range": ["#0000ff"]},
   "legend": {"orient": "top-right", "offset": 7, "title": null, "symbolType": "stroke", "symbolStrokeWidth": 2, "symbolSize": 500, "labelFontSize": 20, "labelFontWeight": "bold", "labelColor": "#000000", "strokeColor": "#262626", "fillColor": "#ffffff", "padding": 3, "labelOffset": 1, "cornerRadius": 0}}
 }}
]
},
{
"width": 391, "height": 393,
"title": {"text": "(b) BSE-2E", "orient": "bottom", "anchor": "middle", "fontSize": 29, "fontWeight": "bold", "color": "#000000", "offset": 38, "dx": -20},
"resolve": {"axis": {"x": "independent", "y": "independent"}},
"layer": [
{"data": {"name": "b"},
 "mark": {"type": "point", "filled": false, "color": "#b8b8b8", "opacity": 1, "size": 60, "strokeWidth": 1, "clip": true},
 "encoding": {
  "x": {"field": "x", "type": "quantitative", "scale": {"domain": [0, 10], "nice": false, "zero": false},
        "axis": {"orient": "bottom", "values": [0,2,4,6,8,10], "domain": false, "grid": true, "gridColor": "#e2e2e2", "tickSize": -5, "tickColor": "#262626", "tickWidth": 1.2, "labelFontSize": 19, "labelFontWeight": "bold", "labelColor": "#262626", "labelPadding": 12, "title": "Story drift ratio (% radian)", "titleFontSize": 22, "titleFontWeight": "bold", "titleColor": "#262626", "titlePadding": 6}},
  "y": {"field": "f", "type": "quantitative", "scale": {"domain": [0, 35], "nice": false, "zero": false},
        "axis": {"orient": "left", "values": [0,5,10,15,20,25,30,35], "domain": false, "grid": true, "gridColor": "#e2e2e2", "tickSize": -5, "tickColor": "#262626", "tickWidth": 1.2, "labelFontSize": 19, "labelFontWeight": "bold", "labelColor": "#262626", "labelPadding": 11, "title": "Floor level", "titleFontSize": 21.5, "titleFontWeight": "bold", "titleColor": "#262626", "titlePadding": 3}},
  "shape": {"field": "m", "type": "nominal", "legend": null,
   "scale": {"domain": ["o","+","*","x","s","d","^","v",">","<","p","h"],
             "range": ["circle","M-1,0L1,0M0,-1L0,1","M-1,0L1,0M0,-1L0,1M-0.7,-0.7L0.7,0.7M-0.7,0.7L0.7,-0.7","M-0.75,-0.75L0.75,0.75M-0.75,0.75L0.75,-0.75","square","diamond","triangle-up","triangle-down","triangle-right","triangle-left","M0,-1L0.22,-0.31L0.95,-0.31L0.36,0.12L0.59,0.81L0,0.38L-0.59,0.81L-0.36,0.12L-0.95,-0.31L-0.22,-0.31Z","M0,-1L0.29,-0.5L0.87,-0.5L0.58,0L0.87,0.5L0.29,0.5L0,1L-0.29,0.5L-0.87,0.5L-0.58,0L-0.87,-0.5L-0.29,-0.5Z"]}}
 }},
{"data": {"name": "bm"},
 "mark": {"type": "line", "strokeWidth": 2},
 "encoding": {
  "x": {"field": "x", "type": "quantitative", "axis": {"orient": "top", "values": [0,2,4,6,8,10], "labels": false, "domain": false, "grid": false, "tickSize": -5, "tickColor": "#262626", "tickWidth": 1.2, "title": null}},
  "y": {"field": "f", "type": "quantitative", "axis": {"orient": "right", "values": [0,5,10,15,20,25,30,35], "labels": false, "domain": false, "grid": false, "tickSize": -5, "tickColor": "#262626", "tickWidth": 1.2, "title": null}},
  "order": {"field": "f", "type": "quantitative"},
  "color": {"datum": "median", "scale": {"range": ["#0000ff"]},
   "legend": {"orient": "top-right", "offset": 5, "title": null, "symbolType": "stroke", "symbolStrokeWidth": 2, "symbolSize": 500, "labelFontSize": 20, "labelFontWeight": "bold", "labelColor": "#000000", "strokeColor": "#262626", "fillColor": "#ffffff", "padding": 3, "labelOffset": 1, "cornerRadius": 0}}
 }}
]
}
]
}
